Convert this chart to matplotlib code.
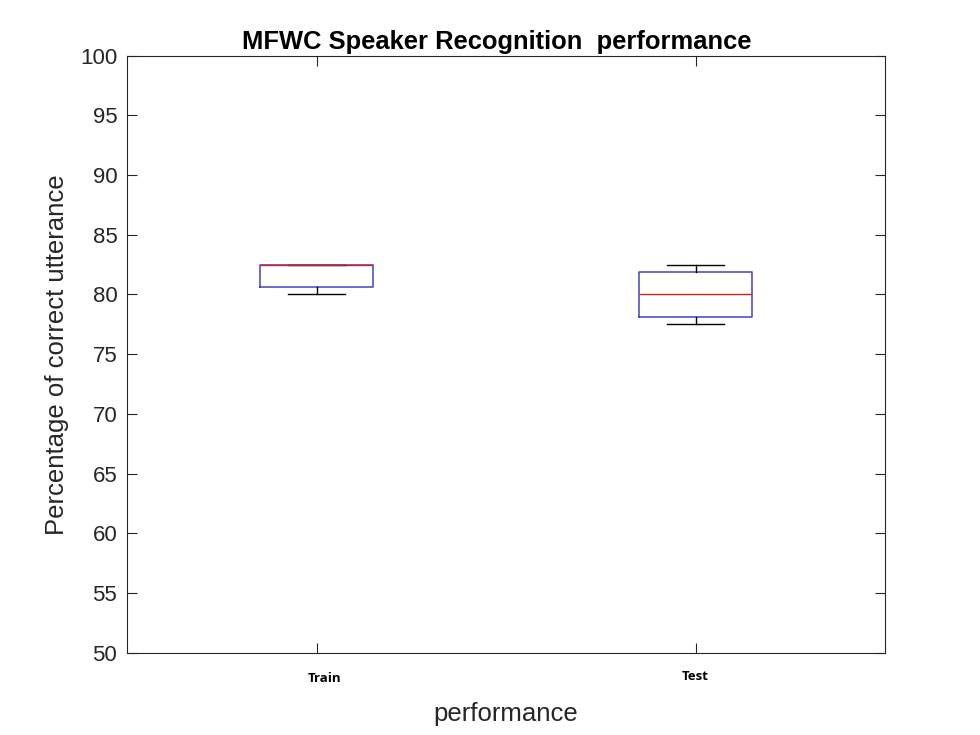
import matplotlib
matplotlib.use("Agg")
import matplotlib.pyplot as plt

categories = ["Train", "Test"]
whislo = [80.0, 77.5]
q1 = [80.65, 78.15]
med = [82.5, 80.0]
q3 = [82.5, 81.9]
whishi = [82.5, 82.5]

yticks = list(range(50, 101, 5))

plt.rcParams['font.family'] = ['Liberation Sans', 'DejaVu Sans']

fig = plt.figure(figsize=(9.8, 7.35), dpi=100)
ax = fig.add_axes([127/980, (735-653)/735, (885-127)/980, (653-55.5)/735])

stats = []
for i, c in enumerate(categories):
    stats.append(dict(label=c, whislo=whislo[i], q1=q1[i], med=med[i],
                      q3=q3[i], whishi=whishi[i], fliers=[]))

ax.bxp(stats, positions=[1, 2], widths=0.3, showfliers=False,
       boxprops=dict(color='#4444bb', linewidth=1.1),
       medianprops=dict(color='#cc2222', linewidth=1.0, zorder=5),
       whiskerprops=dict(color='black', linewidth=1.0, linestyle='-'),
       capprops=dict(color='black', linewidth=1.0), capwidths=0.15)

ax.set_xlim(0.5, 2.5)
ax.set_ylim(50, 100)
ax.set_yticks(yticks)
ax.set_xticks([1, 2])
ax.set_xticklabels([])
ax.tick_params(axis='both', direction='in', top=True, right=True,
               length=7, width=0.8, colors='#262626', labelsize=16)
ax.tick_params(axis='y', pad=7)
for s in ax.spines.values():
    s.set_color('#262626')
    s.set_linewidth(0.8)

ax.text(1.02, 47.85, categories[0], ha='center', va='center', fontsize=9.5,
        fontweight='bold', family=['Open Sans', 'DejaVu Sans'])
ax.text(2.0, 48.05, categories[1], ha='center', va='center', fontsize=9.5,
        fontweight='bold', family=['Open Sans', 'DejaVu Sans'])

ax.set_ylabel("Percentage of correct utterance", fontsize=18.5, color='#262626', labelpad=8)
ax.set_xlabel("performance", fontsize=18.5, color='#262626', labelpad=32)
ax.set_title("MFWC Speaker Recognition  performance", fontsize=18.4,
             fontweight='bold', pad=5, x=0.488)

fig.savefig("out.png", dpi=100)
